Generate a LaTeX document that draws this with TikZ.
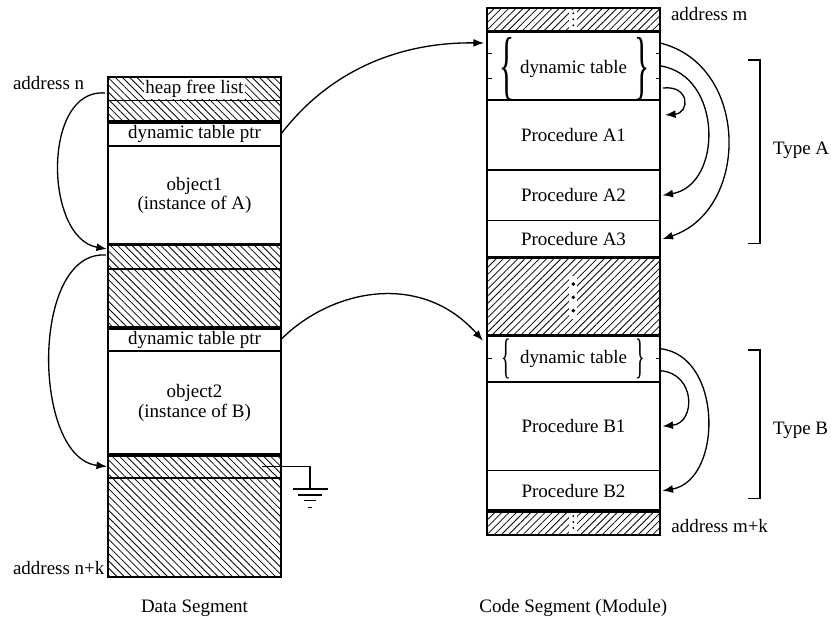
\documentclass[tikz,border=0pt]{standalone}
\usepackage{fontspec}
\setmainfont{Liberation Serif}
\usetikzlibrary{arrows.meta, patterns.meta, fit, calc}

\tikzset{
  cell/.style={draw, line width=0.6pt, inner sep=0pt, outer sep=0pt},
  hatchL/.style={cell, pattern={Lines[angle=-45, distance=2.9pt, line width=0.45pt]}},
  hatchR/.style={cell, pattern={Lines[angle=45, distance=2.9pt, line width=0.45pt]}},
  frame/.style={line width=1.1pt},
  sepline/.style={line width=1.9pt},
  link/.style={-{Latex[length=6pt, width=4.5pt]}, line width=0.75pt},
  lbl/.style={inner sep=0pt},
  twolines/.style={align=center, font=\fontsize{10.8}{9.2}\selectfont},
  bigbrace/.style={inner sep=0pt, font=\fontsize{30}{30}\selectfont},
  smallbrace/.style={inner sep=0pt, font=\fontsize{19}{19}\selectfont},
}

\begin{document}
\begin{tikzpicture}[x=0.2cm, y=-0.2cm, font=\fontsize{10.8}{12}\selectfont]
\useasboundingbox (0,0) rectangle (83.1,61.8);

% Data segment
\node[hatchL, fit={(10.8,7.7)(28.1,10.05)},
      label={[fill=white, inner sep=1pt]center:heap free list}] (free) {};
\node[hatchL, fit={(10.8,10.05)(28.1,12.2)}] (hatch1) {};
\node[cell, fit={(10.8,12.2)(28.1,14.6)}, label=center:dynamic table ptr] (ptrA) {};
\node[cell, fit={(10.8,14.6)(28.1,24.45)},
      label={[twolines]center:object1\\(instance of A)}] (objA) {};
\node[hatchL, fit={(10.8,24.45)(28.1,26.9)}] (hatch2) {};
\node[hatchL, fit={(10.8,26.9)(28.1,32.8)}] (hatch3) {};
\node[cell, fit={(10.8,32.8)(28.1,35.1)}, label=center:dynamic table ptr] (ptrB) {};
\node[cell, fit={(10.8,35.1)(28.1,45.5)},
      label={[twolines]center:object2\\(instance of B)}] (objB) {};
\node[hatchL, fit={(10.8,45.5)(28.1,47.8)}] (hatch4) {};
\node[hatchL, fit={(10.8,47.8)(28.1,57.7)}] (hatch5) {};

\foreach \n in {ptrA, hatch2, ptrB, hatch4}
  \draw[sepline] (\n.north west) -- (\n.north east);
\draw[frame] (free.north west) rectangle (hatch5.south east);

% Code segment
\node[hatchR, fit={(48.7,0.83)(66.0,3.17)}] (topH) {};
\node[cell, fit={(48.7,3.17)(66.0,10.0)}] (dynA) {};
\node[cell, fit={(48.7,10.0)(66.0,17.0)}, label=center:Procedure A1] (pA1) {};
\node[cell, fit={(48.7,17.0)(66.0,22.07)}, label=center:Procedure A2] (pA2) {};
\node[cell, fit={(48.7,22.07)(66.0,25.75)}, label=center:Procedure A3] (pA3) {};
\node[hatchR, fit={(48.7,25.75)(66.0,33.57)}] (midH) {};
\node[cell, fit={(48.7,33.57)(66.0,38.17)}, label=center:dynamic table] (dynB) {};
\node[cell, fit={(48.7,38.17)(66.0,47.07)}, label=center:Procedure B1] (pB1) {};
\node[cell, fit={(48.7,47.07)(66.0,51.1)}, label=center:Procedure B2] (pB2) {};
\node[hatchR, fit={(48.7,51.1)(66.0,53.5)}] (botH) {};
\node at ([shift={(0,0.3)}]dynA.center) {dynamic table};

% braces round the tables
\node[bigbrace] at ([shift={(-6.65,0.3)}]dynA.center) {\scalebox{0.6}[1.45]{\{}};
\node[bigbrace] at ([shift={(6.85,0.3)}]dynA.center) {\scalebox{0.6}[1.45]{\}}};
\node[smallbrace] at ([shift={(-6.75,0)}]dynB.center) {\scalebox{0.6}[1.45]{\{}};
\node[smallbrace] at ([shift={(6.65,0)}]dynB.center) {\scalebox{0.6}[1.45]{\}}};
\foreach \y in {5.3, 7.8, 35.8} {
  \draw (48.7,\y) -- +(0.45,0);
  \draw (66.0,\y) -- +(-0.45,0);
}

% gaps in the code
\draw[white, line width=4.5pt] (57.33,0.95) -- (57.33,3.05);
\draw[line width=1.2pt, line cap=round, dash pattern=on 0pt off 3.4pt] (57.33,1.33) -- (57.33,2.6);
\draw[white, line width=4.5pt] (57.33,27.6) -- (57.33,31.9);
\foreach \y in {28.4, 29.73, 31.07}
  \fill (57.33,\y) circle (1.1pt);
\draw[white, line width=4.5pt] (57.33,51.25) -- (57.33,53.35);
\draw[line width=1.2pt, line cap=round, dash pattern=on 0pt off 3.4pt] (57.33,51.6) -- (57.33,52.95);

\foreach \n in {dynA, midH, dynB, botH}
  \draw[sepline] (\n.north west) -- (\n.north east);
\foreach \n in {pA1, pB1}
  \draw[frame] (\n.north west) -- (\n.north east);
\draw[frame] (topH.north west) rectangle (botH.south east);

% Ground
\coordinate (gnd) at (31.0,48.9);
\draw[line width=0.7pt] ([shift={(-1.9,0)}]hatch4.east) -| (gnd);
\foreach \w/\d in {1.75/0, 1.2/0.6, 0.6/1.17, 0.2/1.83}
  \draw[line width=0.8pt] ([shift={(-\w,\d)}]gnd) -- ([shift={(\w,\d)}]gnd);

% free list links
\draw[link] ([shift={(-0.3,-0.75)}]free.south west) .. controls (4.2,8.8) and (4.4,23.8) .. ([shift={(-0.1,0.45)}]hatch2.north west);
\draw[link] ([shift={(-0.2,1.05)}]hatch2.north west) .. controls (3.0,25.0) and (3.2,45.8) .. ([shift={(-0.1,0)}]hatch4.west);

% pointers to the tables
\draw[link] (ptrA.east) .. controls (33,7) and (40,4.2) .. ([shift={(-0.3,1.13)}]dynA.north west);
\draw[link] (ptrB.east) .. controls (33,29) and (42,27) .. ([shift={(-0.4,0.5)}]dynB.north west);

% table entries
\draw[link] ([shift={(0,1.13)}]dynA.north east) .. controls (75,6.5) and (75,21) .. ([shift={(0.25,0)}]pA3.east);
\draw[link] (dynA.east) .. controls (72.3,7.5) and (72.3,18.5) .. ([shift={(0.25,0)}]pA2.east);
\draw[link] ([shift={(0.3,-1.2)}]dynA.south east) .. controls (69,8.5) and (69,11.3) .. ([shift={(0.5,1.5)}]pA1.north east);
\draw[link] ([shift={(0,1.3)}]dynB.north east) .. controls (72.3,35.5) and (72.3,48) .. ([shift={(0.25,0)}]pB2.east);
\draw[link] ([shift={(0,-1.1)}]dynB.south east) .. controls (69.6,37.3) and (69.6,42.3) .. ([shift={(0.25,0)}]pB1.east);

% Type brackets
\draw[line width=0.85pt] (74.83,6.0) -| (76.0,24.33) -- (74.83,24.33);
\node[lbl, anchor=west] (typeA) at (77.27,15.05) {Type A};
\draw[line width=0.85pt] (74.83,35.0) -| (76.0,49.83) -- (74.83,49.83);
\node[lbl, anchor=west] (typeB) at (77.27,43.07) {Type B};

% Labels
\node[lbl, anchor=base west] (addrN) at (1.27,8.93) {address n};
\node[lbl, anchor=base west] (addrNK) at (1.27,57.4) {address n+k};
\node[lbl, anchor=base] (dataSeg) at (19.45,61.2) {Data Segment};
\node[lbl, anchor=base west] (addrM) at (67.07,2.07) {address m};
\node[lbl, anchor=base west] (addrMK) at (67.1,53.23) {address m+k};
\node[lbl, anchor=base] (codeSeg) at (57.33,61.2) {Code Segment (Module)};
\end{tikzpicture}
\end{document}
